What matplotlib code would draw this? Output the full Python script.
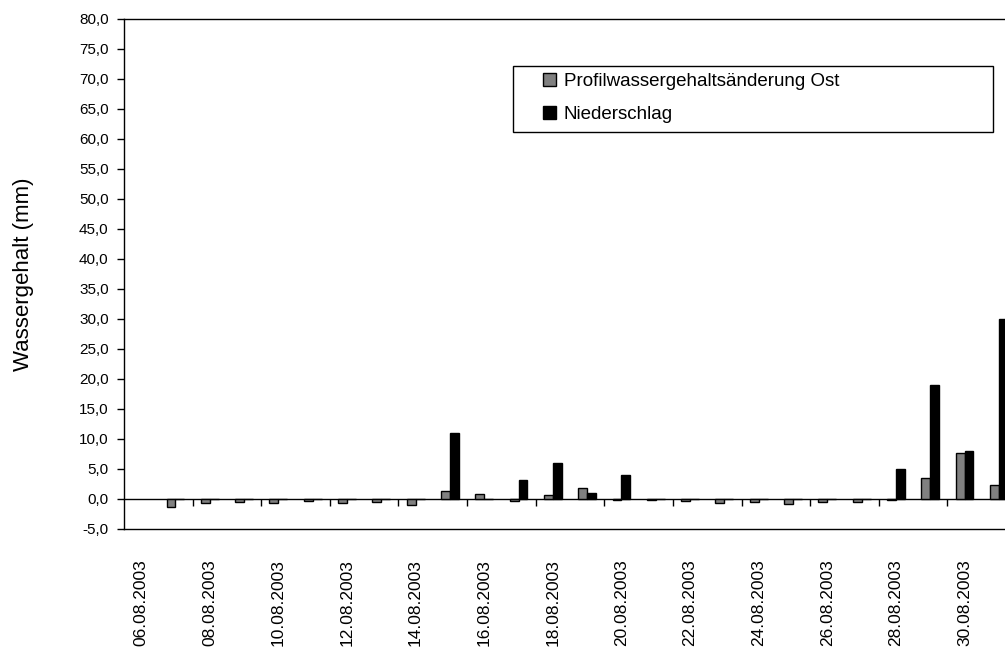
import matplotlib
matplotlib.use("Agg")
import matplotlib.pyplot as plt
from matplotlib.patches import Rectangle
import numpy as np

plt.rcParams["font.family"] = ["Liberation Sans", "DejaVu Sans"]

# data
dates = ["06.08.2003", "07.08.2003", "08.08.2003", "09.08.2003", "10.08.2003",
         "11.08.2003", "12.08.2003", "13.08.2003", "14.08.2003", "15.08.2003",
         "16.08.2003", "17.08.2003", "18.08.2003", "19.08.2003", "20.08.2003",
         "21.08.2003", "22.08.2003", "23.08.2003", "24.08.2003", "25.08.2003",
         "26.08.2003", "27.08.2003", "28.08.2003", "29.08.2003", "30.08.2003",
         "31.08.2003"]
profil_ost = [np.nan, -1.3, -0.6, -0.5, -0.7, -0.4, -0.7, -0.5, -1.0, 1.4,
              0.9, -0.3, 0.6, 1.9, -0.2, -0.2, -0.4, -0.7, -0.5, -0.9,
              -0.5, -0.5, -0.2, 3.5, 7.7, 2.3]
niederschlag = [np.nan, 0.0, 0.0, 0.0, 0.0, 0.0, 0.0, 0.0, 0.0, 11.0,
                0.0, 3.1, 6.0, 1.0, 4.0, 0.0, 0.0, 0.0, 0.0, 0.0,
                0.0, 0.0, 5.0, 19.0, 8.0, 30.0]
y_ticks = np.arange(-5, 85, 5)

W, H = 1005, 657
fig = plt.figure(figsize=(W / 100, H / 100), dpi=100)
# plot area is cut off at the right edge in the original
ax = fig.add_axes([124 / W, (H - 529) / H, 892 / W, 510 / H])

x = np.arange(len(dates))
w = 0.26
ax.bar(x - w / 2, profil_ost, w, color="#808080", edgecolor="black",
       linewidth=1.0, label="Profilwassergehaltsänderung Ost", zorder=3)
ax.bar(x + w / 2, niederschlag, w, color="black", edgecolor="black",
       linewidth=1.0, label="Niederschlag", zorder=3)

ymin, ymax = -5, 80
ax.set_xlim(-0.5, len(dates) - 0.5)
ax.set_ylim(ymin, ymax)

ax.set_yticks(y_ticks)
ax.set_yticklabels([f"{v:.1f}".replace(".", ",") for v in y_ticks])
ax.tick_params(axis="y", direction="out", length=5, width=1, pad=6,
               labelsize=11)

ax.set_xticks(x[::2])
ax.set_xticklabels(dates[::2], rotation=90)
ax.tick_params(axis="x", length=0, pad=22, labelsize=12.5)

for s in ax.spines.values():
    s.set_linewidth(1.0)

# category axis at zero with tick marks between every second category
zero_pos = (0 - ymin) / (ymax - ymin)
sec = ax.secondary_xaxis(zero_pos)
sec.set_xticks(np.arange(1.5, len(dates), 2))
sec.set_xticklabels([])
sec.tick_params(axis="x", direction="out", length=5, width=1)
sec.spines["bottom"].set_linewidth(1.0)

fig.text(24 / W, 1 - 274 / H, "Wassergehalt (mm)", rotation=90,
         ha="center", va="center", fontsize=16)

# legend box
fig.patches.append(Rectangle((513 / W, 1 - 132 / H), 480 / W, 66 / H,
                             transform=fig.transFigure, fill=False,
                             edgecolor="black", linewidth=1.0))
fig.legend(loc="upper left", bbox_to_anchor=(543 / W, 1 - 73 / H),
           bbox_transform=fig.transFigure, frameon=False, fontsize=13.5,
           borderpad=0, borderaxespad=0, handlelength=0.7,
           handleheight=0.7, handletextpad=0.4, labelspacing=0.85)

plt.savefig("out.png", dpi=100)
plt.close()
